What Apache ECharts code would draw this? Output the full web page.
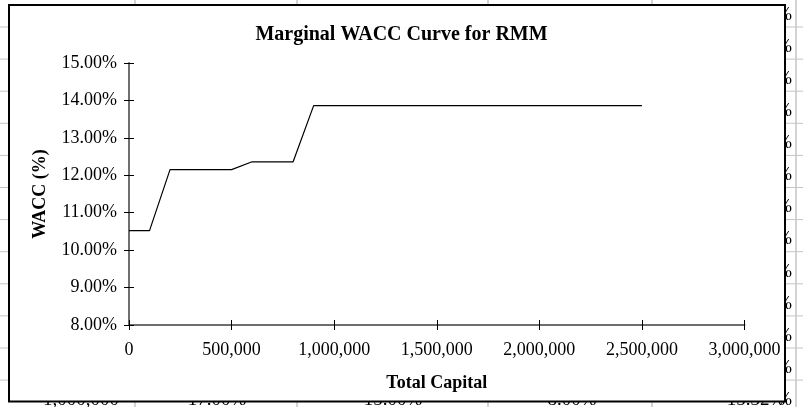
<!DOCTYPE html>
<html>
<head>
<meta charset="utf-8">
<title>Marginal WACC Curve for RMM</title>
<script src="https://cdn.jsdelivr.net/npm/echarts@6.0.0/dist/echarts.min.js"></script>
<style>
  html, body { margin: 0; padding: 0; background: #fff; }
  #chart { width: 803px; height: 407px; }
</style>
</head>
<body>
<div id="chart"></div>
<script>
// Total capital raised (break points of the marginal cost schedule)
const capital = [0, 100000, 200000, 500000, 600000, 800000, 900000, 2500000];
// Weighted average cost of capital at each point, in percent
const wacc = [10.52, 10.52, 12.15, 12.15, 12.36, 12.36, 13.86, 13.86];

// Axis ranges
const xMin = 0, xMax = 3000000, xStep = 500000;
const yMin = 8, yMax = 15, yStep = 1;

// Worksheet cells peeking out around the chart object
const sheetBottomTexts = ['1,000,000', '17.00%', '15.00%', '8.00%', '15.32%'];
const sheetBottomCenters = [81, 217, 393, 572, 756];
const sheetColLines = [135, 297, 488, 652, 796];
const sheetRowCount = 13;

const serif = "'Liberation Serif', 'Times New Roman', Times, serif";

const graphics = [];
// worksheet gridlines
for (let k = 0; k < sheetRowCount; k++) {
  const y = 27 + 32.1 * k;
  graphics.push({ type: 'line', z: 0, silent: true,
    shape: { x1: 0, y1: y, x2: 803, y2: y },
    style: { stroke: '#c4c4c4', lineWidth: 1 } });
}
sheetColLines.forEach(x => {
  graphics.push({ type: 'line', z: 0, silent: true,
    shape: { x1: x, y1: 0, x2: x, y2: 407 },
    style: { stroke: '#c4c4c4', lineWidth: 1.5 } });
});
// right-aligned percentage column, mostly hidden behind the chart
for (let k = 0; k < sheetRowCount; k++) {
  const base = 27 + 32.1 * k - 6;
  graphics.push({ type: 'text', z: 0, silent: true,
    style: { text: '%', x: 792, y: base - 6, align: 'right', verticalAlign: 'middle',
      font: '18px ' + serif, fill: '#000' } });
}
// bottom row of the worksheet
sheetBottomTexts.forEach((t, i) => {
  graphics.push({ type: 'text', z: 0, silent: true,
    style: { text: t, x: sheetBottomCenters[i], y: 406 - 6, align: 'center', verticalAlign: 'middle',
      font: '19px ' + serif, fill: '#000' } });
});
// chart object frame
graphics.push({ type: 'rect', z: 1, silent: true,
  shape: { x: 9, y: 5, width: 776, height: 396.5 },
  style: { fill: '#fff', stroke: '#000', lineWidth: 2 } });

const fmtCapital = v => Number(v).toLocaleString('en-US');
const fmtPct = v => Number(v).toFixed(2) + '%';

const chart = echarts.init(document.getElementById('chart'), null, { renderer: 'canvas' });
chart.setOption({
  animation: false,
  backgroundColor: '#fff',
  graphic: { elements: graphics },
  title: {
    text: 'Marginal WACC Curve for RMM',
    left: 'center',
    top: 20,
    z: 10,
    textStyle: { fontFamily: serif, fontSize: 20, fontWeight: 'bold', color: '#000' }
  },
  grid: { left: 129, right: 58.5, top: 63, bottom: 82, containLabel: false },
  xAxis: [
    {
      type: 'value', min: xMin, max: xMax, interval: xStep, z: 5,
      name: 'Total Capital', nameLocation: 'middle', nameGap: 49,
      nameTextStyle: { fontFamily: serif, fontSize: 18, fontWeight: 'bold', color: '#000' },
      axisLine: { show: true, lineStyle: { color: '#6e6e6e', width: 2 } },
      axisTick: { show: true, length: 5, lineStyle: { color: '#000', width: 1 } },
      axisLabel: { margin: 16, formatter: fmtCapital, fontFamily: serif, fontSize: 18, color: '#000' },
      splitLine: { show: false }
    },
    {
      type: 'value', min: xMin, max: xMax, interval: xStep, z: 5, position: 'bottom',
      axisLine: { show: false },
      axisTick: { show: true, inside: true, length: 5, lineStyle: { color: '#000', width: 1 } },
      axisLabel: { show: false },
      splitLine: { show: false }
    }
  ],
  yAxis: [
    {
      type: 'value', min: yMin, max: yMax, interval: yStep, z: 5,
      name: 'WACC (%)', nameLocation: 'middle', nameRotate: 90, nameGap: 80,
      nameTextStyle: { fontFamily: serif, fontSize: 18, fontWeight: 'bold', color: '#000' },
      axisLine: { show: true, lineStyle: { color: '#6e6e6e', width: 2 } },
      axisTick: { show: true, length: 5, lineStyle: { color: '#000', width: 1 } },
      axisLabel: { margin: 12, formatter: fmtPct, fontFamily: serif, fontSize: 18, color: '#000' },
      splitLine: { show: false }
    },
    {
      type: 'value', min: yMin, max: yMax, interval: yStep, z: 5, position: 'left',
      axisLine: { show: false },
      axisTick: { show: true, inside: true, length: 5, lineStyle: { color: '#000', width: 1 } },
      axisLabel: { show: false },
      splitLine: { show: false }
    }
  ],
  series: [
    {
      type: 'line',
      xAxisIndex: 0,
      yAxisIndex: 0,
      z: 10,
      symbol: 'none',
      lineStyle: { color: '#000', width: 1.2 },
      data: capital.map((c, i) => [c, wacc[i]])
    }
  ]
});
</script>
</body>
</html>
